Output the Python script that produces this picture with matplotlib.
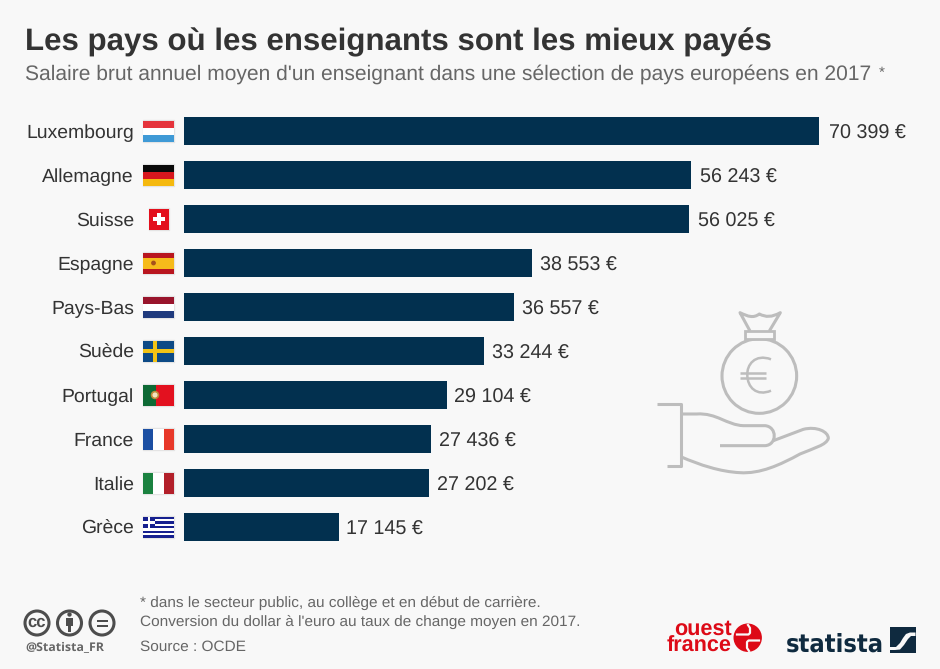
import matplotlib
matplotlib.use("Agg")
import matplotlib.pyplot as plt
from matplotlib.patches import Rectangle, Circle, PathPatch
from matplotlib.path import Path
import numpy as np

countries = ["Luxembourg", "Allemagne", "Suisse", "Espagne", "Pays-Bas",
             "Suède", "Portugal", "France", "Italie", "Grèce"]
salaries = [70399, 56243, 56025, 38553, 36557, 33244, 29104, 27436, 27202, 17145]
value_labels = ["70 399 €", "56 243 €", "56 025 €", "38 553 €", "36 557 €",
                "33 244 €", "29 104 €", "27 436 €", "27 202 €", "17 145 €"]
title = "Les pays où les enseignants sont les mieux payés"
subtitle = "Salaire brut annuel moyen d'un enseignant dans une sélection de pays européens en 2017"
notes = ["* dans le secteur public, au collège et en début de carrière.",
         "Conversion du dollar à l'euro au taux de change moyen en 2017.",
         "Source : OCDE"]

BG = "#f8f8f8"
NAVY = "#02304f"
TXT = "#333333"
W, H = 940, 669
plt.rcParams["font.family"] = ["Liberation Sans", "DejaVu Sans"]
plt.rcParams["text.hinting"] = "none"
plt.rcParams["text.hinting_factor"] = 8

fig = plt.figure(figsize=(W/100, H/100), dpi=100, facecolor=BG)
rend = fig.canvas.get_renderer()

def fit(artists, ref, target_px):
    """Scale the font of artists so that ref is target_px wide."""
    s = ref.get_window_extent(rend).width
    size = ref.get_fontsize()*target_px/s
    for a in artists:
        a.set_fontsize(size)

ov = fig.add_axes([0, 0, 1, 1], zorder=2)
ov.set_xlim(0, W); ov.set_ylim(H, 0); ov.axis("off"); ov.patch.set_alpha(0)

# bar axes: 44 px per row, first row centred at y=131, baseline at x=184
PXV = 635/70399
ax = fig.add_axes([184/W, 1-549/H, (W-184)/W, 440/H], zorder=1)
ax.set_xlim(0, (W-184)/PXV); ax.set_ylim(9.5, -0.5); ax.axis("off")
ax.patch.set_alpha(0)
ypos = np.arange(len(countries))
ax.barh(ypos, salaries, height=0.645, color=NAVY)
vals = []
for y, v, lab in zip(ypos, salaries, value_labels):
    gap_px = 6.0 + v*0.00005
    vals.append(ax.annotate(lab, (v, y), xytext=(gap_px*0.72, -8.0*0.72), textcoords="offset points",
                            va="baseline", ha="left", fontsize=14, color=TXT))
fit(vals, vals[0], 77)

# title block
t = ov.text(25, 50.5, title, fontsize=22.5, fontweight="bold", color="#333333", va="baseline")
fit([t], t, 748)
t = ov.text(25, 80, subtitle, fontsize=15, color="#666666", va="baseline")
fit([t], t, 848)
ov.text(879, 77, "*", fontsize=11, color="#666666", va="baseline")

# country names + flags
def rect(x, y, w, h, c, z=3):
    ov.add_patch(Rectangle((x, y), w, h, fc=c, ec="none", zorder=z))

def hstripes(cy, cols):
    n = len(cols); h = 21/n
    for i, c in enumerate(cols):
        rect(143, cy-10.5+i*h, 31, h, c)

def vstripes(cy, cols):
    for i, c in enumerate(cols):
        rect(143+i*31/3, cy-10.5, 31/3, 21, c)

def flag(name, cy):
    x0, w0 = (149, 20) if name == "Suisse" else (143, 31)
    ov.add_patch(Rectangle((x0-0.4, cy-10.9), w0+0.8, 21.8, fc="none", ec="#e4e4e4", lw=1.0, zorder=2.5))
    if name == "Luxembourg":
        hstripes(cy, ["#e5343c", "#ffffff", "#3f9ad6"])
    elif name == "Allemagne":
        hstripes(cy, ["#0a0a0a", "#d8171e", "#f5b90f"])
    elif name == "Suisse":
        rect(149, cy-10.5, 20, 21, "#e30f1c")
        rect(157, cy-6, 4, 12, "white", 4); rect(153, cy-2, 12, 4, "white", 4)
    elif name == "Espagne":
        rect(143, cy-10.5, 31, 21, "#b9161f")
        rect(143, cy-5, 31, 10.5, "#f6bb1b", 4)
        ov.add_patch(Circle((153.5, cy), 2.4, fc="#a5511c", ec="none", zorder=5))
    elif name == "Pays-Bas":
        hstripes(cy, ["#99152c", "#ffffff", "#1f3a7d"])
    elif name == "Suède":
        rect(143, cy-10.5, 31, 21, "#0d4a86")
        rect(143, cy-2, 31, 4, "#f2c316", 4); rect(152.5, cy-10.5, 4, 21, "#f2c316", 4)
    elif name == "Portugal":
        rect(143, cy-10.5, 12.5, 21, "#0e6a35"); rect(155.5, cy-10.5, 18.5, 21, "#e3111f")
        ov.add_patch(Circle((155, cy), 3.4, fc="#f3e3c0", ec="#c08a3a", lw=1.2, zorder=4))
    elif name == "France":
        vstripes(cy, ["#1c4fa3", "#ffffff", "#e8392a"])
    elif name == "Italie":
        vstripes(cy, ["#1b8240", "#ffffff", "#b3202a"])
    elif name == "Grèce":
        for i in range(9):
            rect(143, cy-10.5+i*21/9, 31, 21/9, "#16208f" if i % 2 == 0 else "white")
        rect(143, cy-10.5, 12, 11.7, "#16208f", 4)
        rect(147.8, cy-10.5, 2.4, 11.7, "white", 5); rect(143, cy-5.8, 12, 2.4, "white", 5)

names = []
for i, name in enumerate(countries):
    cy = 131 + 44*i
    names.append(ov.text(134, cy+7, name, ha="right", va="baseline", fontsize=14, color=TXT))
    flag(name, cy)
fit(names, names[0], 108)

# icon: bag and hand (zoomed-crop coordinates mapped to the page)
GR = "#bdbdbd"
def Z(p):
    return (640+p[0]/3, 300+p[1]/3)

M, L, C = Path.MOVETO, Path.LINETO, Path.CURVE4

def outline(start, *segs, lw=2.2, z=3):
    """Each seg is a single point (line) or three points (cubic)."""
    verts, codes = [Z(start)], [M]
    for s in segs:
        if len(s) == 3:
            verts += [Z(p) for p in s]; codes += [C]*3
        else:
            verts += [Z(s[0])]; codes += [L]
    ov.add_patch(PathPatch(Path(verts, codes), fc="none", ec=GR, lw=lw, zorder=z,
                           capstyle="butt", joinstyle="round"))

ov.add_patch(Circle(Z((358, 228)), 112/3, fc="none", ec=GR, lw=2.2, zorder=3))
ov.add_patch(Rectangle(Z((315, 93)), 88/3, 23/3, fc=BG, ec=GR, lw=2.0, zorder=4))
outline((330, 93), [(300, 38)], [(325, 50), (340, 55), (358, 42)],
        [(378, 52), (395, 52), (421, 38)], [(388, 93)])
outline((393, 178), [(345, 160), (320, 195), (322, 225)], [(322, 262), (350, 290), (393, 272)], lw=1.8)
outline((300, 219), [(378, 219)], lw=1.8)
outline((300, 234), [(378, 234)], lw=1.8)
outline((50, 313), [(122, 313)], [(122, 497)], [(80, 497)])
outline((122, 342), [(170, 342)], [(230, 338), (260, 375), (310, 377)], [(375, 377)],
        [(412, 380), (412, 435), (375, 437)], [(240, 437)])
outline((400, 422), [(490, 388)], [(530, 378), (565, 395), (565, 415)],
        [(560, 435), (520, 445), (480, 462)], [(420, 495), (360, 522), (300, 518)],
        [(240, 515), (180, 495), (122, 470)])

# footer notes
ns = [ov.text(140, y, n, fontsize=11, color="#666666", va="baseline")
      for y, n in zip((607, 626, 651), notes)]
fit(ns, ns[1], 441)

# licence icons
GY = "#4d4d4d"
for cx in (37, 69.5, 102):
    ov.add_patch(Circle((cx, 623), 12, fc="none", ec=GY, lw=2.2, zorder=3))
ov.text(37, 622.5, "cc", fontsize=12, fontweight="bold", color=GY, ha="center", va="center")
ov.add_patch(Circle((69.5, 614.5), 2.2, fc=GY, ec="none", zorder=4))
rect(66, 618, 7, 7.5, GY, 4); rect(67.6, 625, 3.8, 7, GY, 4)
rect(96.5, 619.5, 11, 2.4, GY, 4); rect(96.5, 624.7, 11, 2.4, GY, 4)
t = ov.text(25, 651.5, "@Statista_FR", fontsize=8.6, fontweight="bold", color="#666666",
            family=["Open Sans", "DejaVu Sans"], va="baseline")
fit([t], t, 79)

# publisher marks
RED = "#dd0a17"
ov.text(731.5, 651.5, "ouest\nfrance", fontsize=15.6, fontweight="bold", color=RED, ha="right",
        ma="right", va="baseline", linespacing=0.74)
ov.add_patch(Circle((747.7, 637.7), 14.2, fc=RED, ec="none", zorder=3))
ov.plot([737, 748.5, 750, 750, 748], [634.5, 634.5, 633, 628, 625], color=BG, lw=1.6, zorder=4)
ov.plot([759, 748.5, 747, 747, 749], [640.5, 640.5, 642, 648, 651], color=BG, lw=1.6, zorder=4)

t = ov.text(785.5, 651.5, "statista", fontsize=20, fontweight="bold", color="#0f2a3f", va="baseline",
            family=["DejaVu Sans"], stretch="condensed")
fit([t], t, 98)
rect(890, 627, 25.5, 25.5, "#0f2a3f")
ov.add_patch(PathPatch(Path([(890, 647), (896, 647), (900, 643), (903, 638), (906, 634), (910, 632.5), (915.5, 632.5),
                             (915.5, 636), (911, 636), (908, 639), (904, 645), (900, 649.5), (895, 650), (890, 650), (890, 647)]),
                       fc=BG, ec="none", zorder=4))

fig.savefig("out.png", dpi=100, facecolor=BG)
